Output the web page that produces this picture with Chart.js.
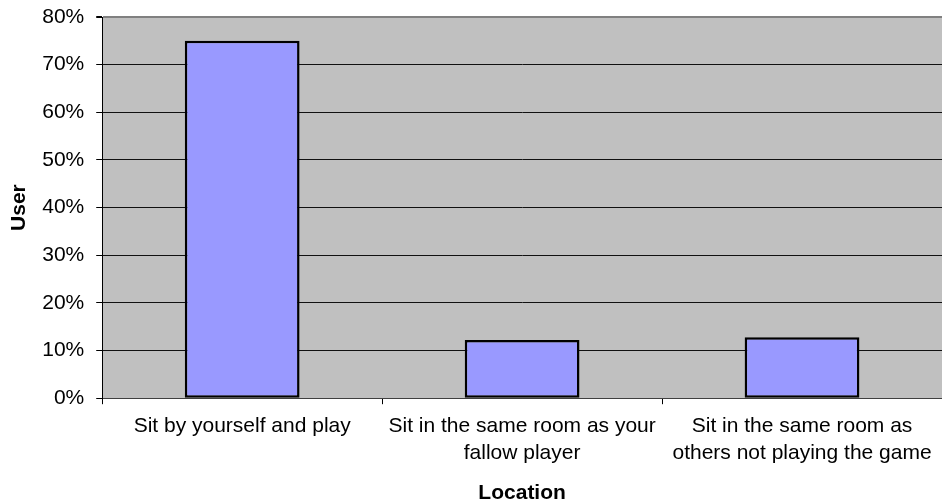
<!DOCTYPE html>
<html>
<head>
<meta charset="utf-8">
<script src="https://cdn.jsdelivr.net/npm/chart.js@4/dist/chart.umd.min.js"></script>
<style>
  html, body { margin: 0; padding: 0; background: #fff; }
  #wrap { width: 942px; height: 503px; }
</style>
</head>
<body>
<div id="wrap"><canvas id="chart" width="942" height="503"></canvas></div>
<script>
// ── Data ──
const locations = [
    'Sit by yourself and play',
    ['Sit in the same room as your', 'fallow player'],
    ['Sit in the same room as', 'others not playing the game']
];
const userShare = [75, 12.2, 12.8];
const yTicks = [0, 10, 20, 30, 40, 50, 60, 70, 80];

const FONT = '"Liberation Sans", Arial, sans-serif';

// grey plot background
const plotBackground = {
    id: 'plotBackground',
    beforeDraw(chart) {
        const { ctx, chartArea: a } = chart;
        ctx.save();
        ctx.fillStyle = '#C0C0C0';
        ctx.fillRect(a.left, a.top, a.right - a.left, a.bottom - a.top);
        ctx.restore();
    }
};

new Chart(document.getElementById('chart'), {
    type: 'bar',
    data: {
        labels: locations,
        datasets: [{
            label: 'User',
            data: userShare,
            backgroundColor: '#9999FF',
            borderColor: '#000000',
            borderWidth: 2.5,
            borderSkipped: false,
            barPercentage: 0.41,
            categoryPercentage: 1
        }]
    },
    options: {
        responsive: false,
        animation: false,
        layout: { padding: { top: 0, right: 0, bottom: -3, left: 7 } },
        plugins: {
            legend: { display: false },
            tooltip: { enabled: false }
        },
        scales: {
            x: {
                offset: true,
                grid: {
                    offset: true,
                    drawOnChartArea: false,
                    drawTicks: true,
                    tickLength: 6,
                    color: '#000'
                },
                border: { color: '#404040', width: 1 },
                ticks: {
                    color: '#000',
                    padding: 8,
                    maxRotation: 0,
                    autoSkip: false,
                    font: { family: FONT, size: 21, lineHeight: 1.3 }
                },
                title: {
                    display: true,
                    text: 'Location',
                    color: '#000',
                    padding: { top: 6, bottom: 0 },
                    font: { family: FONT, size: 21, weight: 'bold' }
                }
            },
            y: {
                min: 0,
                max: 80,
                afterBuildTicks: axis => { axis.ticks = yTicks.map(v => ({ value: v })); },
                afterFit: axis => { axis.paddingTop = 17; axis.width -= 2; },
                grid: {
                    color: ctx => (ctx.tick && ctx.tick.value === 80) ? '#808080' : '#111',
                    lineWidth: ctx => (ctx.tick && ctx.tick.value === 80) ? 2 : 1,
                    tickLength: 6,
                    tickColor: '#000'
                },
                border: { color: '#000', width: 1 },
                ticks: {
                    color: '#000',
                    padding: 12,
                    callback: v => v + '%',
                    font: { family: FONT, size: 21 }
                },
                title: {
                    display: true,
                    text: 'User',
                    color: '#000',
                    padding: { top: 0, bottom: 0 },
                    font: { family: FONT, size: 21, weight: 'bold' }
                }
            }
        }
    },
    plugins: [plotBackground]
});
</script>
</body>
</html>
